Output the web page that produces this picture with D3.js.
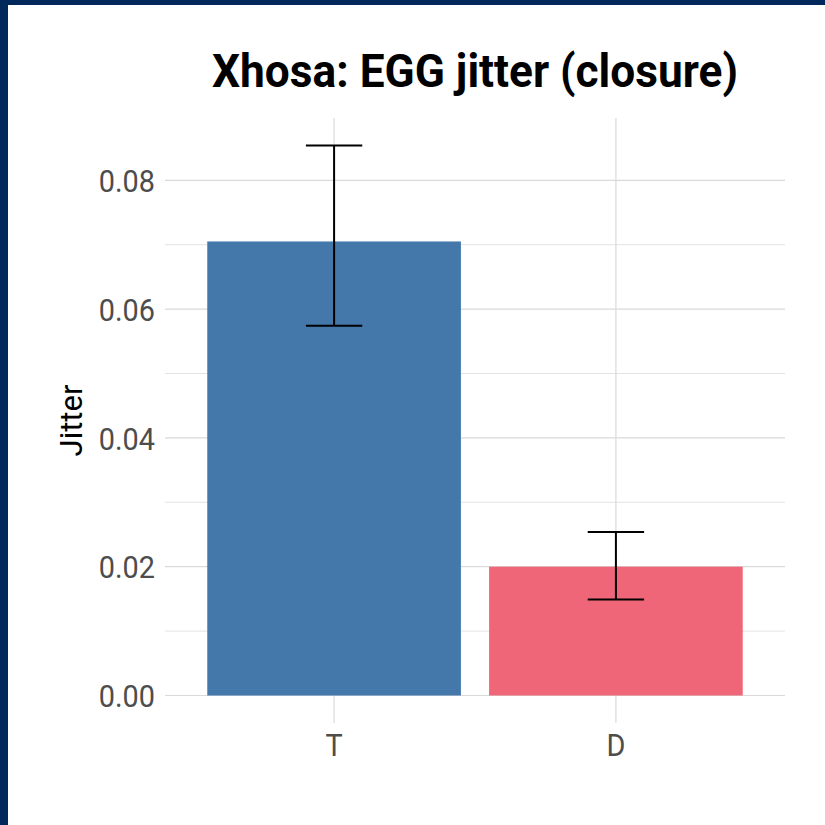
<!DOCTYPE html>
<html>
<head>
<meta charset="utf-8">
<script src="https://cdn.jsdelivr.net/npm/d3@7"></script>
<style>
  html, body { margin: 0; padding: 0; background: #fff; }
  svg { display: block; }
</style>
</head>
<body>
<div id="chart"></div>
<script>
var width = 825;
var height = 825;

// data
var categories = ['T', 'D'];
var means = [0.0705, 0.0200];
var lower = [0.0574, 0.0149];
var upper = [0.0854, 0.0254];
var barColors = ['#4477AA', '#EE6677'];
var yTicks = [0, 0.02, 0.04, 0.06, 0.08];
var yMinor = [0.01, 0.03, 0.05, 0.07];

var panel = { left: 165, right: 785, top: 118, bottom: 723 };

var svg = d3.select('#chart')
  .append('svg')
  .attr('width', width)
  .attr('height', height);

svg.append('rect')
  .attr('width', width)
  .attr('height', height)
  .attr('fill', '#fff');

// navy frame on top and left
svg.append('rect').attr('x', 0).attr('y', 0).attr('width', width).attr('height', 5).attr('fill', '#00285a');
svg.append('rect').attr('x', 0).attr('y', 0).attr('width', 8).attr('height', height).attr('fill', '#00285a');

var yMax = d3.max(upper);
var y = d3.scaleLinear()
  .domain([-0.05 * yMax, yMax * 1.05])
  .range([panel.bottom, panel.top]);

var x = d3.scaleBand()
  .domain(categories)
  .range([panel.left, panel.right])
  .paddingInner(0.1)
  .paddingOuter(0.15);

var step = x.step();

// grid
svg.append('g').selectAll('line.minor')
  .data(yMinor)
  .enter().append('line')
  .attr('x1', panel.left).attr('x2', panel.right)
  .attr('y1', function(d) { return y(d); })
  .attr('y2', function(d) { return y(d); })
  .attr('stroke', '#e3e3e3')
  .attr('stroke-width', 1);

svg.append('g').selectAll('line.major')
  .data(yTicks)
  .enter().append('line')
  .attr('x1', panel.left).attr('x2', panel.right)
  .attr('y1', function(d) { return y(d); })
  .attr('y2', function(d) { return y(d); })
  .attr('stroke', '#d9d9d9')
  .attr('stroke-width', 1.2);

svg.append('g').selectAll('line')
  .data(categories)
  .enter().append('line')
  .attr('x1', function(d) { return x(d) + x.bandwidth() / 2; })
  .attr('x2', function(d) { return x(d) + x.bandwidth() / 2; })
  .attr('y1', panel.top).attr('y2', panel.bottom)
  .attr('stroke', '#d9d9d9')
  .attr('stroke-width', 1.2);

// bars
svg.append('g').selectAll('rect')
  .data(categories)
  .enter().append('rect')
  .attr('x', function(d) { return x(d); })
  .attr('width', x.bandwidth())
  .attr('y', function(d, i) { return y(means[i]); })
  .attr('height', function(d, i) { return y(0) - y(means[i]); })
  .attr('fill', function(d, i) { return barColors[i]; });

// error bars
var eb = svg.append('g')
  .attr('stroke', '#000')
  .attr('stroke-width', 2)
  .attr('fill', 'none');

categories.forEach(function(c, i) {
  var cx = x(c) + x.bandwidth() / 2;
  var hw = step * 0.1;
  eb.append('line').attr('x1', cx).attr('x2', cx).attr('y1', y(lower[i])).attr('y2', y(upper[i]));
  eb.append('line').attr('x1', cx - hw).attr('x2', cx + hw).attr('y1', y(lower[i])).attr('y2', y(lower[i]));
  eb.append('line').attr('x1', cx - hw).attr('x2', cx + hw).attr('y1', y(upper[i])).attr('y2', y(upper[i]));
});

// axes
var yAxis = svg.append('g')
  .attr('transform', 'translate(' + panel.left + ',0)')
  .call(d3.axisLeft(y).tickValues(yTicks).tickFormat(d3.format('.2f')).tickSize(0).tickPadding(10));

var xAxis = svg.append('g')
  .attr('transform', 'translate(0,' + panel.bottom + ')')
  .call(d3.axisBottom(x).tickSize(0).tickPadding(10));

[yAxis, xAxis].forEach(function(ax) {
  ax.select('.domain').remove();
  ax.selectAll('text')
    .attr('font-family', 'Roboto, sans-serif')
    .attr('font-size', 31)
    .attr('fill', '#4d4d4d');
});
yAxis.selectAll('text').attr('dy', '0.36em');
xAxis.selectAll('text').attr('dy', '0.75em');

// squeeze text a bit to fake a condensed face
function condense(sel, k) {
  sel.each(function() {
    var len = this.getComputedTextLength();
    d3.select(this)
      .attr('textLength', len * k)
      .attr('lengthAdjust', 'spacingAndGlyphs');
  });
}
condense(yAxis.selectAll('text'), 0.93);
condense(xAxis.selectAll('text'), 0.93);

// y title
svg.append('text')
  .attr('transform', 'translate(82,' + (panel.top + panel.bottom) / 2 + ') rotate(-90)')
  .attr('text-anchor', 'middle')
  .attr('font-family', 'Roboto, sans-serif')
  .attr('font-size', 31)
  .attr('fill', '#000')
  .text('Jitter');

// title
svg.append('text')
  .attr('x', (panel.left + panel.right) / 2)
  .attr('y', 87)
  .attr('text-anchor', 'middle')
  .attr('font-family', 'Roboto, sans-serif')
  .attr('font-weight', 'bold')
  .attr('font-size', 46)
  .attr('fill', '#000')
  .attr('textLength', 526)
  .attr('lengthAdjust', 'spacingAndGlyphs')
  .text('Xhosa: EGG jitter (closure)');
</script>
</body>
</html>
